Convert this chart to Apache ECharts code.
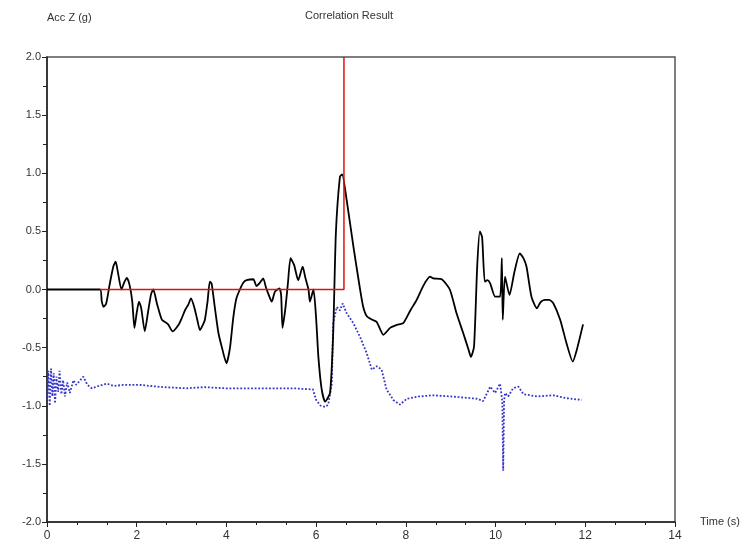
<!DOCTYPE html>
<html>
<head>
<meta charset="utf-8">
<script src="https://cdn.jsdelivr.net/npm/echarts@6/dist/echarts.min.js"></script>
<style>html,body{margin:0;padding:0;background:#fff}#c{width:751px;height:551px}</style>
</head>
<body>
<div id="c"></div>
<script>
// ---- data ----
var accT = [0,1.18,1.22,1.26,1.32,1.40,1.48,1.53,1.58,1.66,1.72,1.78,1.84,1.90,1.95,2.00,2.05,2.10,2.18,2.25,2.32,2.37,2.45,2.56,2.63,2.70,2.80,2.93,3.00,3.08,3.15,3.21,3.28,3.35,3.41,3.48,3.52,3.58,3.63,3.67,3.74,3.82,3.90,4.00,4.08,4.15,4.22,4.30,4.38,4.45,4.60,4.67,4.75,4.82,4.88,4.93,5.01,5.08,5.18,5.22,5.25,5.31,5.37,5.43,5.51,5.60,5.70,5.76,5.83,5.86,5.94,6.00,6.05,6.12,6.20,6.31,6.38,6.44,6.53,6.58,6.68,6.83,6.98,7.05,7.13,7.25,7.35,7.50,7.65,7.80,7.94,8.10,8.24,8.40,8.54,8.61,8.80,8.98,9.13,9.28,9.40,9.45,9.52,9.59,9.65,9.70,9.76,9.82,9.88,9.99,10.10,10.14,10.16,10.21,10.31,10.42,10.54,10.62,10.69,10.80,10.92,11.00,11.10,11.20,11.29,11.44,11.58,11.72,11.81,11.95];
var accZ = [0,0,-0.10,-0.15,-0.12,0.05,0.20,0.24,0.15,0.0,0.06,0.10,0.04,-0.10,-0.33,-0.20,-0.105,-0.16,-0.36,-0.20,-0.04,0.0,-0.12,-0.26,-0.28,-0.30,-0.36,-0.305,-0.25,-0.176,-0.13,-0.076,-0.148,-0.26,-0.35,-0.30,-0.26,-0.10,0.067,0.05,-0.15,-0.37,-0.50,-0.635,-0.50,-0.25,-0.08,0.0,0.06,0.08,0.088,0.03,0.06,0.096,0.02,-0.033,-0.105,-0.02,0.01,-0.05,-0.33,-0.176,0.05,0.27,0.21,0.08,0.196,0.10,0.0,-0.105,0.0,-0.25,-0.58,-0.85,-0.965,-0.89,-0.377,0.485,0.97,0.99,0.77,0.37,0.0,-0.15,-0.23,-0.26,-0.28,-0.39,-0.33,-0.305,-0.29,-0.18,-0.09,0.04,0.11,0.096,0.088,0.0,-0.205,-0.377,-0.52,-0.58,-0.49,0.196,0.50,0.45,0.067,0.08,0.053,-0.062,-0.062,0.27,-0.26,0.11,-0.047,0.15,0.31,0.27,0.196,-0.062,-0.162,-0.11,-0.09,-0.09,-0.12,-0.26,-0.46,-0.62,-0.52,-0.30];

var refT = [0,0.03,0.06,0.09,0.12,0.15,0.18,0.21,0.25,0.28,0.32,0.36,0.40,0.45,0.51,0.59,0.65,0.72,0.81,0.90,1.0,1.15,1.33,1.50,1.70,2.07,2.3,2.6,3.11,3.5,4.0,4.5,5.0,5.5,5.93,6.0,6.1,6.2,6.27,6.35,6.38,6.46,6.53,6.59,6.68,6.83,6.98,7.13,7.24,7.35,7.46,7.57,7.72,7.87,8.02,8.3,8.6,9.0,9.3,9.6,9.72,9.80,9.88,9.99,10.10,10.15,10.17,10.19,10.21,10.28,10.39,10.51,10.62,10.92,11.29,11.58,11.92];
var refZ = [-0.95,-0.70,-1.0,-0.68,-0.92,-0.72,-0.98,-0.75,-0.88,-0.70,-0.90,-0.78,-0.92,-0.80,-0.89,-0.78,-0.82,-0.79,-0.75,-0.82,-0.85,-0.83,-0.81,-0.83,-0.82,-0.82,-0.83,-0.84,-0.85,-0.84,-0.85,-0.85,-0.85,-0.85,-0.86,-0.95,-1.0,-1.01,-0.99,-0.81,-0.29,-0.15,-0.18,-0.12,-0.205,-0.29,-0.41,-0.55,-0.69,-0.66,-0.69,-0.86,-0.95,-0.99,-0.94,-0.92,-0.91,-0.92,-0.93,-0.94,-0.96,-0.90,-0.836,-0.89,-0.81,-0.96,-1.56,-0.96,-0.89,-0.92,-0.85,-0.836,-0.90,-0.92,-0.91,-0.935,-0.95];

var corrT = [1.18,6.62,6.62];
var corrZ = [0,0,2.0];

function pairs(a,b){return a.map(function(v,i){return [v,b[i]];});}

var chart = echarts.init(document.getElementById('c'));
var font = 'Liberation Sans, Arial, sans-serif';
chart.setOption({
  animation:false,
  backgroundColor:'#fff',
  grid:{left:47,right:76,top:57,bottom:29,show:true,borderColor:'#555',borderWidth:1.5,containLabel:false},
  graphic:[{type:'text',left:305,top:10,style:{text:'Correlation Result',font:'11px '+font,fill:'#333'}}],
  xAxis:{type:'value',min:0,max:14,interval:2,name:'Time (s)',nameLocation:'end',nameGap:25,
    nameTextStyle:{fontFamily:font,fontSize:11,color:'#333',verticalAlign:'middle'},
    axisLine:{onZero:false,lineStyle:{color:'#222',width:1.5}},
    axisTick:{show:true,inside:false,length:5,lineStyle:{color:'#222'}},
    minorTick:{show:true,splitNumber:3,length:3,lineStyle:{color:'#222'}},
    splitLine:{show:false},
    axisLabel:{fontFamily:font,fontSize:12,color:'#333',margin:8}},
  yAxis:{type:'value',min:-2,max:2,interval:0.5,name:'Acc Z (g)',nameLocation:'end',nameGap:34,
    nameTextStyle:{fontFamily:font,fontSize:11,color:'#333',align:'left'},
    axisLine:{show:true,onZero:false,lineStyle:{color:'#222',width:1.5}},
    axisTick:{show:true,inside:false,length:5,lineStyle:{color:'#222'}},
    minorTick:{show:true,splitNumber:2,length:4,lineStyle:{color:'#222'}},
    splitLine:{show:false},
    axisLabel:{fontFamily:font,fontSize:11,color:'#333',margin:6,formatter:function(v){return v.toFixed(1);}}},
  series:[
    {type:'line',data:pairs(refT,refZ),symbol:'none',lineStyle:{color:'#3535c8',width:1.8,type:'dotted'},z:2},
    {type:'line',data:pairs(accT,accZ),symbol:'none',smooth:0.2,lineStyle:{color:'#000',width:1.8},z:3},
    {type:'line',data:pairs(corrT,corrZ),symbol:'none',lineStyle:{color:'#e01010',width:1.5},z:4}
  ]
});
</script>
</body>
</html>
